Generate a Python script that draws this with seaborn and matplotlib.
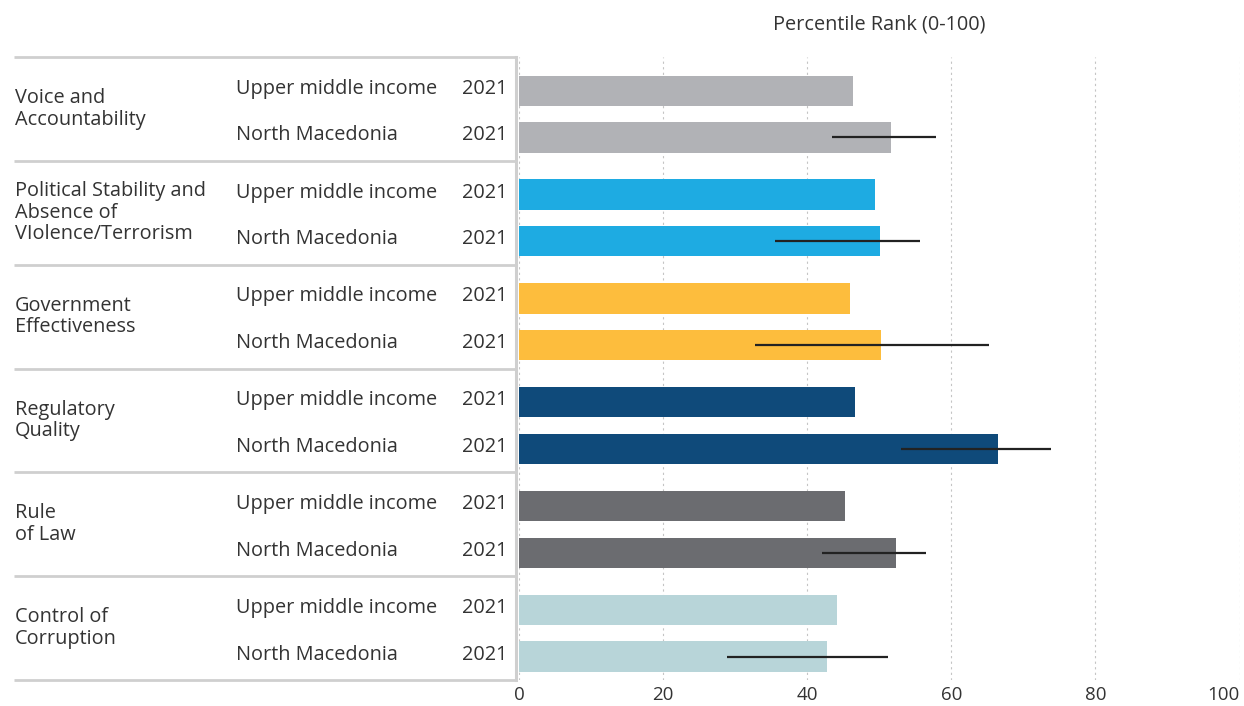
import numpy as np
import pandas as pd
import matplotlib.pyplot as plt
import matplotlib.transforms as mtransforms
import seaborn as sns

# Worldwide Governance Indicators, percentile rank
indicators = [
    "Voice and\nAccountability",
    "Political Stability and\nAbsence of\nVIolence/Terrorism",
    "Government\nEffectiveness",
    "Regulatory\nQuality",
    "Rule\nof Law",
    "Control of\nCorruption",
]
groups = ["Upper middle income", "North Macedonia"]
year = "2021"
umi_values = [46.3, 49.4, 46.0, 46.7, 45.2, 44.2]
nm_values = [51.7, 50.1, 50.2, 66.5, 52.3, 42.7]
nm_lower = [43.5, 35.6, 32.7, 53.0, 42.0, 28.9]
nm_upper = [57.9, 55.7, 65.3, 73.9, 56.5, 51.2]
colors = ["#b1b2b6", "#1eabe2", "#fdbd3d", "#0f4a7a", "#6b6c70", "#b8d5d9"]
x_ticks = [0, 20, 40, 60, 80, 100]

TEXT = "#333333"
LINE = "#cfcfcf"
FS = 14.3

df = pd.DataFrame({
    "Indicator": indicators * 2,
    "Group": [groups[0]] * len(indicators) + [groups[1]] * len(indicators),
    "Value": umi_values + nm_values,
})

sns.set_style("white")
plt.rcParams["font.family"] = ["Open Sans", "DejaVu Sans"]

W, H = 1244, 706
fig = plt.figure(figsize=(W / 100, H / 100), dpi=100)
ax = fig.add_axes([519 / W, 26 / H, 720.5 / W, 623 / H])

sns.barplot(data=df, x="Value", y="Indicator", hue="Group", order=indicators,
            hue_order=groups, width=0.9, gap=0.35, saturation=1,
            legend=False, ax=ax)

# one colour per indicator, both rows
for cont in ax.containers:
    for bar, c in zip(cont, colors):
        bar.set_facecolor(c)
        bar.set_edgecolor("none")

# range lines on the country bars
ax.hlines(np.arange(len(indicators)) + 0.225, nm_lower, nm_upper,
          color="#222222", lw=1.6, zorder=3)

# bars sit a little below the middle of each table block
shift = 0.05
ax.set_xlim(0, 100)
ax.set_ylim(len(indicators) - 0.5 - shift, -0.5 - shift)
ax.set_xticks(x_ticks)
ax.set_xlabel("")
ax.set_ylabel("")
ax.tick_params(axis="x", length=0, pad=4, labelsize=13.5, labelcolor=TEXT)
ax.tick_params(axis="y", left=False, labelleft=False)
ax.get_xticklabels()[-1].set_ha("right")
ax.xaxis.grid(True, linestyle=(0, (2, 3)), color="#c4c4c4", lw=0.8)
ax.set_axisbelow(True)
for s in ["top", "right", "bottom"]:
    ax.spines[s].set_visible(False)
ax.spines["left"].set_color(LINE)
ax.spines["left"].set_linewidth(2.2)
ax.spines["left"].set_position(("outward", 2))

ax.set_title("Percentile Rank (0-100)", fontsize=FS, color=TEXT, pad=20)

# table on the left
trans = mtransforms.blended_transform_factory(fig.transFigure, ax.transData)
for i, name in enumerate(indicators):
    ax.text(15 / W, i - shift, name, transform=trans, ha="left", va="center",
            fontsize=FS, linespacing=1.1, color=TEXT)
    for off, g in zip([-0.225, 0.225], groups):
        ax.text(236 / W, i + off - 0.02, g, transform=trans, ha="left",
                va="center", fontsize=FS, color=TEXT)
        ax.text(507 / W, i + off - 0.02, year, transform=trans, ha="right",
                va="center", fontsize=FS, color=TEXT)

for b in np.arange(len(indicators) + 1) - 0.5 - shift:
    ax.plot([14 / W, 517 / W], [b, b], transform=trans, color=LINE, lw=2,
            clip_on=False, solid_capstyle="butt")

fig.savefig("out.png", dpi=100)
